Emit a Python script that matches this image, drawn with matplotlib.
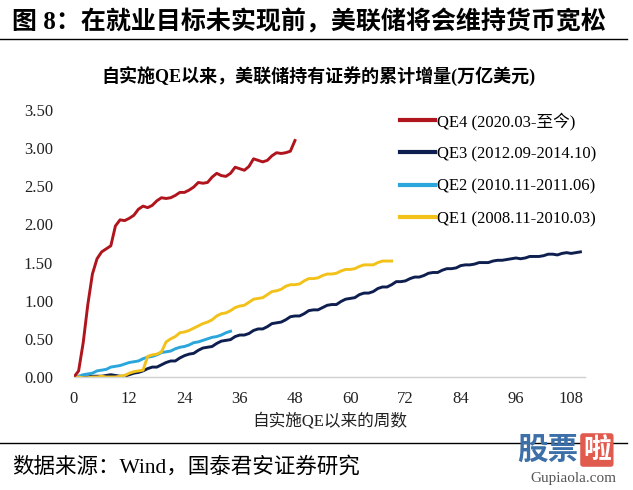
import matplotlib
matplotlib.use("Agg")
import matplotlib.pyplot as plt
from matplotlib.lines import Line2D

plt.rcParams['font.family'] = ['Liberation Serif', 'Noto Sans CJK SC', 'DejaVu Sans']

# ---- data (weekly cumulative increase, trillion USD) ----
qe4 = [0.00, 0.08, 0.45, 0.95, 1.35, 1.55, 1.64, 1.68, 1.72, 1.98, 2.06, 2.05, 2.08,
       2.12, 2.20, 2.24, 2.22, 2.25, 2.31, 2.35, 2.34, 2.35, 2.38, 2.42, 2.42, 2.45,
       2.49, 2.55, 2.54, 2.55, 2.62, 2.67, 2.64, 2.63, 2.67, 2.75, 2.73, 2.71, 2.76,
       2.86, 2.84, 2.82, 2.84, 2.90, 2.94, 2.93, 2.94, 2.96, 3.10]

qe3 = [0.00, 0.00, 0.00, 0.00, 0.01, 0.01, 0.01, 0.02, 0.03, 0.02, 0.01,
       0.01, 0.03, 0.05, 0.06, 0.08, 0.11, 0.13, 0.13, 0.16, 0.19, 0.21, 0.21,
       0.25, 0.28, 0.30, 0.31, 0.35, 0.38, 0.39, 0.40, 0.44, 0.47, 0.48, 0.49,
       0.53, 0.55, 0.55, 0.57, 0.61, 0.63, 0.63, 0.66, 0.70, 0.71, 0.72, 0.75,
       0.79, 0.80, 0.80, 0.83, 0.87, 0.88, 0.88, 0.91, 0.94, 0.95, 0.95, 0.99,
       1.02, 1.03, 1.04, 1.08, 1.10, 1.10, 1.12, 1.16, 1.18, 1.18, 1.21, 1.25,
       1.25, 1.26, 1.29, 1.31, 1.31, 1.33, 1.36, 1.37, 1.37, 1.40, 1.42, 1.42,
       1.43, 1.46, 1.47, 1.47, 1.48, 1.50, 1.50, 1.50, 1.52, 1.53, 1.53, 1.54,
       1.55, 1.56, 1.55, 1.56, 1.58, 1.58, 1.58, 1.59, 1.61, 1.61, 1.60, 1.62,
       1.63, 1.62, 1.63, 1.64]

qe2 = [0.00, 0.01, 0.03, 0.04, 0.05, 0.08, 0.09, 0.10, 0.13, 0.14, 0.15, 0.17,
       0.19, 0.20, 0.21, 0.24, 0.26, 0.27, 0.29, 0.32, 0.33, 0.34, 0.37, 0.39,
       0.40, 0.42, 0.45, 0.46, 0.48, 0.50, 0.52, 0.53, 0.55, 0.58, 0.60]

qe1 = [0.00, 0.00, -0.01, -0.01, 0.00, 0.00, 0.01, 0.00, 0.00, 0.00, 0.01, 0.02,
       0.05, 0.07, 0.08, 0.09, 0.27, 0.29, 0.30, 0.33, 0.46, 0.50, 0.53, 0.58,
       0.59, 0.61, 0.64, 0.67, 0.70, 0.72, 0.75, 0.80, 0.83, 0.84, 0.87, 0.91,
       0.93, 0.94, 0.98, 1.02, 1.03, 1.04, 1.08, 1.12, 1.13, 1.15, 1.19, 1.21,
       1.21, 1.22, 1.26, 1.29, 1.29, 1.30, 1.33, 1.35, 1.35, 1.36, 1.39, 1.41,
       1.41, 1.42, 1.45, 1.47, 1.47, 1.47, 1.50, 1.52, 1.52, 1.52]

labels = ["QE4 (2020.03-至今)", "QE3 (2012.09-2014.10)",
          "QE2 (2010.11-2011.06)", "QE1 (2008.11-2010.03)"]
x_ticks = [0, 12, 24, 36, 48, 60, 72, 84, 96, 108]
y_ticks = [0.0, 0.5, 1.0, 1.5, 2.0, 2.5, 3.0, 3.5]

colors = {"qe4": "#B0141C", "qe3": "#0E1F4F", "qe2": "#2BA6DC", "qe1": "#F2C21B"}

fig = plt.figure(figsize=(6.33, 4.90), dpi=100)
ax = fig.add_axes([74/633, 1-377/490, (585-74)/633, (377-110)/490])

lw = 2.1
ax.plot(range(len(qe3)), qe3, color=colors["qe3"], lw=lw, solid_joinstyle='round')
ax.plot(range(len(qe2)), qe2, color=colors["qe2"], lw=lw, solid_joinstyle='round')
ax.plot(range(len(qe1)), qe1, color=colors["qe1"], lw=lw, solid_joinstyle='round')
ax.plot(range(len(qe4)), qe4, color=colors["qe4"], lw=lw, solid_joinstyle='round')

ax.set_xlim(0, 111)
ax.set_ylim(0, 3.5)
ax.set_xticks(x_ticks)
ax.set_xticklabels([str(t) for t in x_ticks], fontsize=12, color="#222222")
ax.set_yticks(y_ticks)
ax.set_yticklabels([f"{t:.2f}" for t in y_ticks], fontsize=12, color="#222222")
ax.tick_params(axis='both', length=0)
ax.tick_params(axis='x', pad=10)
ax.tick_params(axis='y', pad=15)
for s in ['top', 'right', 'left']:
    ax.spines[s].set_visible(False)
ax.spines['bottom'].set_color("#D0D0D0")
ax.spines['bottom'].set_linewidth(1.0)
ax.set_xlabel("自实施QE以来的周数", fontsize=12, labelpad=4, color="#222222")

handles = [Line2D([], [], color=colors[k], lw=3) for k in ["qe4", "qe3", "qe2", "qe1"]]
leg = fig.legend(handles, labels, loc='upper left',
                 bbox_to_anchor=(400/633, 1-112/490), bbox_transform=fig.transFigure,
                 frameon=False, fontsize=12, handlelength=2.1, handletextpad=0.12,
                 labelspacing=0.98, borderaxespad=0, borderpad=0)

# titles and decorations
fig.text(12/633, 1-22/490, "图 8：在就业目标未实现前，美联储将会维持货币宽松",
         fontsize=18, fontweight='bold', va='center', ha='left')
fig.add_artist(Line2D([0, 627/633], [1-39/490, 1-39/490], color='black', lw=1.0))
fig.text(318/633, 1-76/490, "自实施QE以来，美联储持有证券的累计增量(万亿美元)",
         fontsize=13, fontweight='bold', va='center', ha='center')
fig.add_artist(Line2D([0, 627/633], [1-443/490, 1-443/490], color='black', lw=1.0))
fig.text(12/633, 1-467/490, "数据来源：Wind，国泰君安证券研究",
         fontsize=15.5, va='center', ha='left')

# watermark
fig.text(517/633, 1-450/490, "股票", fontsize=22, fontweight='bold', color="#3D6FA8",
         va='center', ha='left', family=['Noto Sans CJK SC'])
fig.text(583/633, 1-450/490, "啦", fontsize=20, fontweight='bold', color="white",
         va='center', ha='left', family=['Noto Sans CJK SC'],
         bbox=dict(boxstyle='round,pad=0.1', fc='#E05A4E', ec='none'))
fig.text(573/633, 1-478/490, "Gupiaola.com", fontsize=11, color="#555555",
         va='center', ha='center')

fig.savefig("out.png", dpi=100)
